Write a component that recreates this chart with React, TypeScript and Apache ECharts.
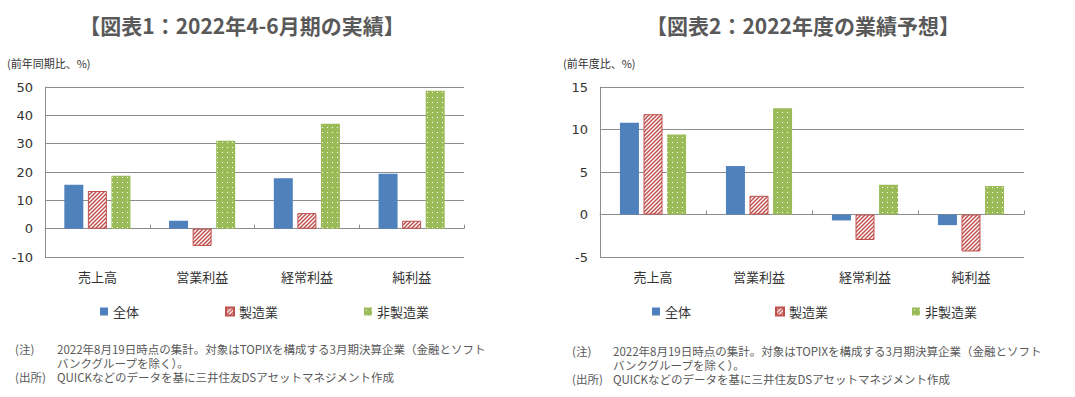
import React, { useEffect, useRef } from 'react';
import * as echarts from 'echarts';

const categories = ['売上高', '営業利益', '経常利益', '純利益'];
const seriesNames = ['全体', '製造業', '非製造業'];

const chart1All = [15.5, 2.8, 17.8, 19.4];
const chart1Mfg = [13.3, -6.1, 5.5, 2.8];
const chart1NonMfg = [18.7, 31.0, 37.0, 48.7];

const chart2All = [10.8, 5.7, -0.7, -1.25];
const chart2Mfg = [11.8, 2.2, -3.0, -4.35];
const chart2NonMfg = [9.4, 12.5, 3.5, 3.35];

const chart1Axis = { min: -10, max: 50, interval: 10 };
const chart2Axis = { min: -5, max: 15, interval: 5 };

const title1 = '【図表1：2022年4-6月期の実績】';
const title2 = '【図表2：2022年度の業績予想】';
const unit1 = '(前年同期比、%)';
const unit2 = '(前年度比、%)';
const noteLabel = '(注)';
const noteLine1 = '2022年8月19日時点の集計。対象はTOPIXを構成する3月期決算企業（金融とソフト';
const noteLine2 = 'バンクグループを除く）。';
const sourceLabel = '(出所)';
const sourceLine = 'QUICKなどのデータを基に三井住友DSアセットマネジメント作成';

const BLUE = '#4F81BD';
const RED = '#C0504D';
const GREEN = '#9BBB59';
const GRID_GREY = '#8C8C8C';
const FONT = '"Noto Sans CJK JP", "Noto Sans", sans-serif';

function hatchCanvas() {
  const s = 4;
  const c = document.createElement('canvas');
  c.width = s;
  c.height = s;
  const ctx = c.getContext('2d')!;
  ctx.fillStyle = '#ffffff';
  ctx.fillRect(0, 0, s, s);
  ctx.strokeStyle = RED;
  ctx.lineWidth = 1.5;
  ctx.beginPath();
  ctx.moveTo(0, s);
  ctx.lineTo(s, 0);
  ctx.moveTo(-1, 1);
  ctx.lineTo(1, -1);
  ctx.moveTo(s - 1, s + 1);
  ctx.lineTo(s + 1, s - 1);
  ctx.stroke();
  return c;
}

function dotCanvas() {
  const s = 5;
  const c = document.createElement('canvas');
  c.width = s;
  c.height = s;
  const ctx = c.getContext('2d')!;
  ctx.fillStyle = GREEN;
  ctx.fillRect(0, 0, s, s);
  ctx.fillStyle = '#ffffff';
  ctx.fillRect(2, 2, 1, 1);
  return c;
}

export default function App() {
  const ref = useRef<HTMLDivElement>(null);

  useEffect(() => {
    if (!ref.current) return;
    const chart = echarts.init(ref.current, undefined, { renderer: 'svg' });

    const hatch = { image: hatchCanvas(), repeat: 'repeat' };
    const dots = { image: dotCanvas(), repeat: 'repeat' };

    const styles = [
      { color: BLUE },
      { color: hatch, borderColor: RED, borderWidth: 1 },
      { color: dots },
    ];

    const makeSeries = (datas: number[][], xIdx: number, yIdx: number) =>
      datas.map((d, i) => ({
        type: 'bar',
        name: seriesNames[i],
        data: d,
        xAxisIndex: xIdx,
        yAxisIndex: yIdx,
        barWidth: 19,
        barGap: '24%',
        itemStyle: styles[i],
        emphasis: { disabled: true },
      }));

    const lineXAxis = (gridIndex: number) => ({
      type: 'category',
      gridIndex,
      data: categories,
      position: 'bottom',
      axisLine: { show: true, onZero: true, lineStyle: { color: GRID_GREY, width: 1 } },
      axisTick: { show: true, inside: true, length: 4, lineStyle: { color: GRID_GREY } },
      axisLabel: { show: false },
      splitLine: { show: false },
    });
    const labelXAxis = (gridIndex: number) => ({
      type: 'category',
      gridIndex,
      data: categories,
      position: 'bottom',
      axisLine: { show: false, onZero: false },
      axisTick: { show: false },
      axisLabel: { show: true, margin: 13, fontSize: 13, color: '#333', fontFamily: FONT },
      splitLine: { show: false },
    });
    const yAxis = (gridIndex: number, a: { min: number; max: number; interval: number }) => ({
      type: 'value',
      gridIndex,
      min: a.min,
      max: a.max,
      interval: a.interval,
      axisLine: { show: true, lineStyle: { color: GRID_GREY, width: 1 } },
      axisTick: { show: false },
      axisLabel: { margin: 12, fontSize: 13, color: '#333', fontFamily: 'DejaVu Sans, sans-serif' },
      splitLine: { show: true, lineStyle: { color: GRID_GREY, width: 1 } },
    });

    const text = (t: string, x: number, y: number, size: number, color: string, extra: any = {}) => ({
      type: 'text',
      x,
      y,
      silent: true,
      style: {
        text: t,
        fill: color,
        fontSize: size,
        fontFamily: FONT,
        verticalAlign: 'middle',
        textVerticalAlign: 'middle',
        ...extra,
      },
    });

    const noteBlock = (labelX: number, textX: number, y: number) => [
      text(noteLabel, labelX, y, 11.5, '#595959'),
      text(noteLine1, textX, y, 11.5, '#595959'),
      text(noteLine2, textX, y + 14, 11.5, '#595959'),
      text(sourceLabel, labelX, y + 28, 11.5, '#595959'),
      text(sourceLine, textX, y + 28, 11.5, '#595959'),
    ];

    chart.setOption({
      animation: false,
      backgroundColor: '#ffffff',
      grid: [
        { left: 45, top: 87, width: 419, height: 170, containLabel: false },
        { left: 600, top: 87, width: 424, height: 170, containLabel: false },
      ],
      xAxis: [lineXAxis(0), labelXAxis(0), lineXAxis(1), labelXAxis(1)],
      yAxis: [yAxis(0, chart1Axis), yAxis(1, chart2Axis)],
      legend: [
        {
          data: seriesNames,
          left: 95,
          top: 300,
          itemWidth: 8,
          itemHeight: 8,
          itemGap: 86,
          icon: 'rect',
          selectedMode: false,
          textStyle: { fontSize: 13, color: '#333', fontFamily: FONT },
        },
        {
          data: seriesNames,
          left: 647,
          top: 300,
          itemWidth: 8,
          itemHeight: 8,
          itemGap: 84,
          icon: 'rect',
          selectedMode: false,
          textStyle: { fontSize: 13, color: '#333', fontFamily: FONT },
        },
      ],
      series: [
        ...makeSeries([chart1All, chart1Mfg, chart1NonMfg], 0, 0),
        ...makeSeries([chart2All, chart2Mfg, chart2NonMfg], 2, 1),
      ],
      graphic: [
        text(title1, 242, 25, 21, '#595959', { fontWeight: 'bold', align: 'center', textAlign: 'center' }),
        text(title2, 803, 25, 21, '#595959', { fontWeight: 'bold', align: 'center', textAlign: 'center' }),
        text(unit1, 7, 63, 11, '#333'),
        text(unit2, 563, 63, 11, '#333'),
        ...noteBlock(15, 57, 349),
        ...noteBlock(572, 613, 351),
      ],
    });

    return () => {
      chart.dispose();
    };
  }, []);

  return (
    <div
      ref={ref}
      style={{ position: 'fixed', left: 0, top: 0, width: 1075, height: 397, background: '#fff' }}
    />
  );
}
